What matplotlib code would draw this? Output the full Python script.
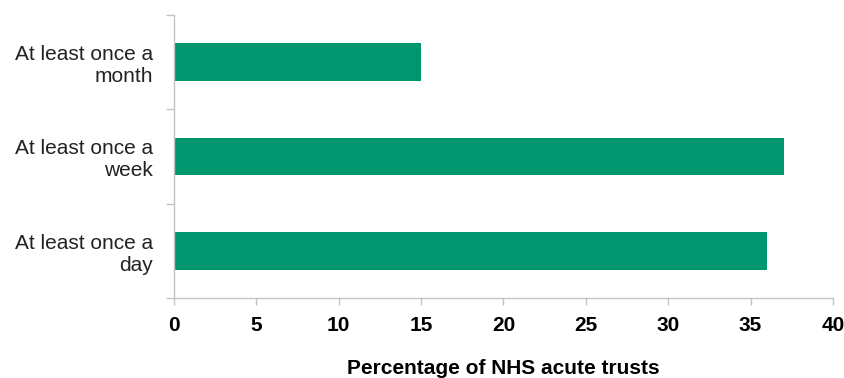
import matplotlib
matplotlib.use("Agg")
import matplotlib.pyplot as plt
import numpy as np

# Frequency categories (top to bottom) and share of NHS acute trusts (%)
categories = ["At least once a\nmonth", "At least once a\nweek", "At least once a\nday"]
values = [15, 37, 36]
x_ticks = [0, 5, 10, 15, 20, 25, 30, 35, 40]
x_label = "Percentage of NHS acute trusts"

BAR_COLOR = "#00976E"
AXIS_COLOR = "#C4C4C4"

plt.rcParams["font.family"] = ["Liberation Sans", "DejaVu Sans"]

fig = plt.figure(figsize=(8.45, 3.78), dpi=100)
ax = fig.add_axes([174 / 845, 1 - 298 / 378, (833 - 174) / 845, (298 - 15) / 378])

y = np.arange(len(categories))
ax.barh(y, values, height=0.40, color=BAR_COLOR)

ax.set_xlim(0, 40)
ax.set_ylim(len(categories) - 0.5, -0.5)

# Spines: only the left and bottom axis lines in light grey
for side in ("top", "right"):
    ax.spines[side].set_visible(False)
for side in ("left", "bottom"):
    ax.spines[side].set_color(AXIS_COLOR)
    ax.spines[side].set_linewidth(1.0)

# X axis ticks and bold labels
ax.set_xticks(x_ticks)
ax.set_xticklabels([str(t) for t in x_ticks], fontsize=15, fontweight="bold")
ax.tick_params(axis="x", direction="out", length=5, width=1.0,
               color=AXIS_COLOR, pad=8)

# Y axis: labels at category centres, tick marks at category boundaries
ax.set_yticks(y)
ax.set_yticklabels(categories, fontsize=15, linespacing=1.2, color="#222222")
ax.tick_params(axis="y", which="major", length=0, pad=15)
ax.set_yticks(np.arange(-0.5, len(categories)), minor=True)
ax.tick_params(axis="y", which="minor", direction="out", length=6, width=1.0,
               color=AXIS_COLOR)

ax.set_xlabel(x_label, fontsize=15, fontweight="bold", labelpad=17)

fig.savefig("out.png", dpi=100)
